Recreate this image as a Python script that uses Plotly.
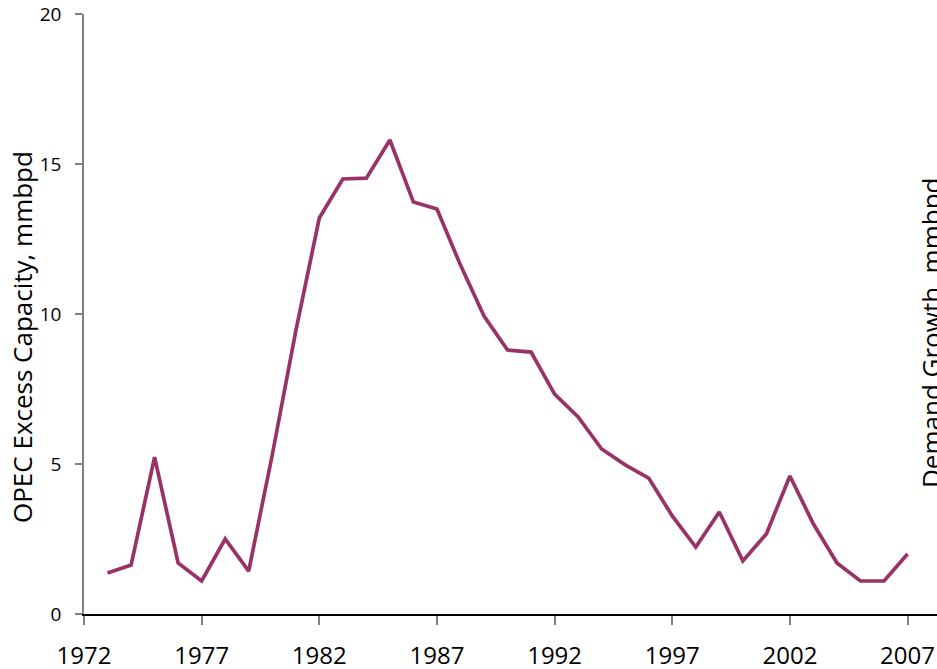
import plotly.graph_objects as go

years = list(range(1973, 2008))
opec_excess = [1.37, 1.63, 5.23, 1.7, 1.1, 2.5, 1.43, 5.3, 9.43, 13.2, 14.5, 14.53, 15.8,
               13.73, 13.5, 11.63, 9.93, 8.8, 8.73, 7.33, 6.57, 5.5, 4.97, 4.53, 3.27,
               2.23, 3.4, 1.77, 2.67, 4.6, 3.0, 1.7, 1.1, 1.1, 2.0]
x_ticks = [1972, 1977, 1982, 1987, 1992, 1997, 2002, 2007]
y_ticks = [0, 5, 10, 15, 20]

W, H = 937, 669
L, T, B = 84, 14, 55
PW = W - L

fig = go.Figure()
fig.add_trace(go.Scatter(x=years, y=opec_excess, mode="lines",
                         line=dict(color="#993366", width=3.7), showlegend=False))

fig.update_layout(
    width=W, height=H,
    margin=dict(l=L, r=0, t=T, b=B, autoexpand=False),
    plot_bgcolor="white", paper_bgcolor="white",
    font=dict(family="Open Sans", color="black"),
)
fig.update_xaxes(range=[1972, 1972 + PW / 23.53], tickvals=x_ticks, ticktext=[str(t) for t in x_ticks],
                 showgrid=False, zeroline=False, showline=True, linecolor="black", linewidth=2,
                 ticks="outside", ticklen=9, tickcolor="#808080", tickwidth=1.5, automargin=False,
                 ticklabeloverflow="allow", ticklabelstandoff=10,
                 tickfont=dict(size=24, family="Open Sans"))
fig.update_yaxes(range=[0, 20], tickvals=y_ticks, showgrid=False, zeroline=False,
                 showline=True, linecolor="#808080", linewidth=1.5, automargin=False,
                 ticks="outside", ticklen=7, tickcolor="#808080", tickwidth=1.5,
                 ticklabeloverflow="allow", ticklabelstandoff=10,
                 tickfont=dict(size=19, family="Open Sans"))
fig.add_annotation(text="OPEC Excess Capacity, mmbpd", xref="paper", yref="paper",
                   x=(22 - L) / PW, y=(614 - 337) / 600, textangle=-90,
                   showarrow=False, xanchor="center", yanchor="middle",
                   font=dict(size=26, family="Open Sans", color="black"))
fig.add_annotation(text="Demand Growth, mmbpd", xref="paper", yref="paper",
                   x=(931 - L) / PW, y=(614 - 333) / 600, textangle=-90,
                   showarrow=False, xanchor="center", yanchor="middle",
                   font=dict(size=26, family="Open Sans", color="black"))

fig.write_html(
    "out.html",
    config={"displayModeBar": False},
    post_script="document.body.style.margin='0';document.body.style.overflow='hidden';",
)
